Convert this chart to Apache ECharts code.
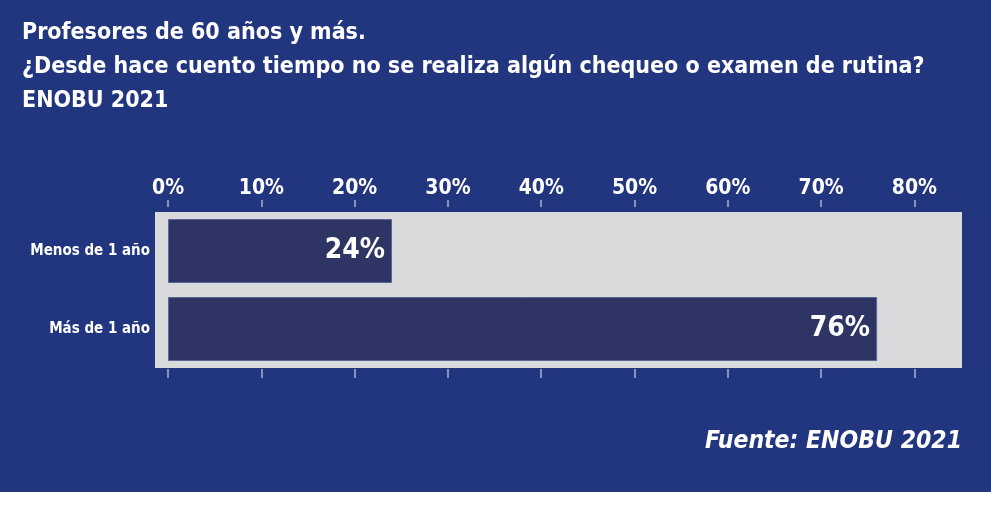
<!DOCTYPE html>
<html>
<head>
<meta charset="utf-8">
<script src="https://cdn.jsdelivr.net/npm/echarts@6/dist/echarts.min.js"></script>
<style>
html,body{margin:0;padding:0;background:#ffffff;}
#wrap{position:absolute;left:0;top:0;width:991px;height:492px;background:#22357f;}
#chart{position:absolute;left:0;top:0;width:991px;height:505px;}
</style>
</head>
<body>
<div id="wrap"></div>
<div id="chart"></div>
<script>
const titleLines = ['Profesores de 60 años y más.', '¿Desde hace cuento tiempo no se realiza algún chequeo o examen de rutina?', 'ENOBU 2021'];
const sourceText = 'Fuente: ENOBU 2021';
const categories = ['Menos de 1 año', 'Más de 1 año'];
const values = [24, 76];
const tickValues = [0, 10, 20, 30, 40, 50, 60, 70, 80];

const FONT = '"Liberation Sans Narrow", "DejaVu Sans Condensed", "Roboto Condensed", sans-serif';

const chart = echarts.init(document.getElementById('chart'), null, {renderer: 'canvas'});
chart.setOption({
  backgroundColor: 'transparent',
  animation: false,
  title: [
    {
      text: titleLines.join('\n'),
      left: 17, top: 11,
      textStyle: {color: '#ffffff', fontFamily: FONT, fontWeight: 'bold', fontSize: 23, lineHeight: 34}
    },
    {
      text: sourceText,
      right: 24, top: 424,
      textStyle: {color: '#ffffff', fontFamily: FONT, fontWeight: 'bold', fontStyle: 'italic', fontSize: 24.5}
    }
  ],
  grid: {
    left: 155, top: 212, width: 807, height: 156,
    show: true, backgroundColor: '#d9dadc', borderWidth: 0, containLabel: false
  },
  xAxis: [
    {
      type: 'value', position: 'top', min: -1.4, max: 85.1, offset: 5,
      axisLine: {show: false},
      axisTick: {show: true, length: 7, customValues: tickValues, lineStyle: {color: '#a9b1d3', width: 1.5}},
      axisLabel: {show: true, customValues: tickValues, formatter: '{value}%', color: '#ffffff', fontFamily: FONT, fontWeight: 'bold', fontSize: 21, margin: 8},
      splitLine: {show: false}
    },
    {
      type: 'value', position: 'bottom', min: -1.4, max: 85.1, offset: 1,
      axisLine: {show: false},
      axisTick: {show: true, length: 9, customValues: tickValues, lineStyle: {color: '#a9b1d3', width: 1.5}},
      axisLabel: {show: false},
      splitLine: {show: false}
    }
  ],
  yAxis: {
    type: 'category', data: categories, inverse: true,
    axisLine: {show: false}, axisTick: {show: false},
    axisLabel: {color: '#ffffff', fontFamily: FONT, fontWeight: 'bold', fontSize: 15, margin: 5}
  },
  series: [{
    type: 'bar', data: values, xAxisIndex: 0, barWidth: 64,
    itemStyle: {color: '#2e3565', borderColor: '#5c6593', borderWidth: 1},
    label: {
      show: true, position: 'insideRight', distance: 7, formatter: '{c}%',
      color: '#ffffff', fontFamily: FONT, fontWeight: 'bold', fontSize: 28
    }
  }]
});
</script>
</body>
</html>
